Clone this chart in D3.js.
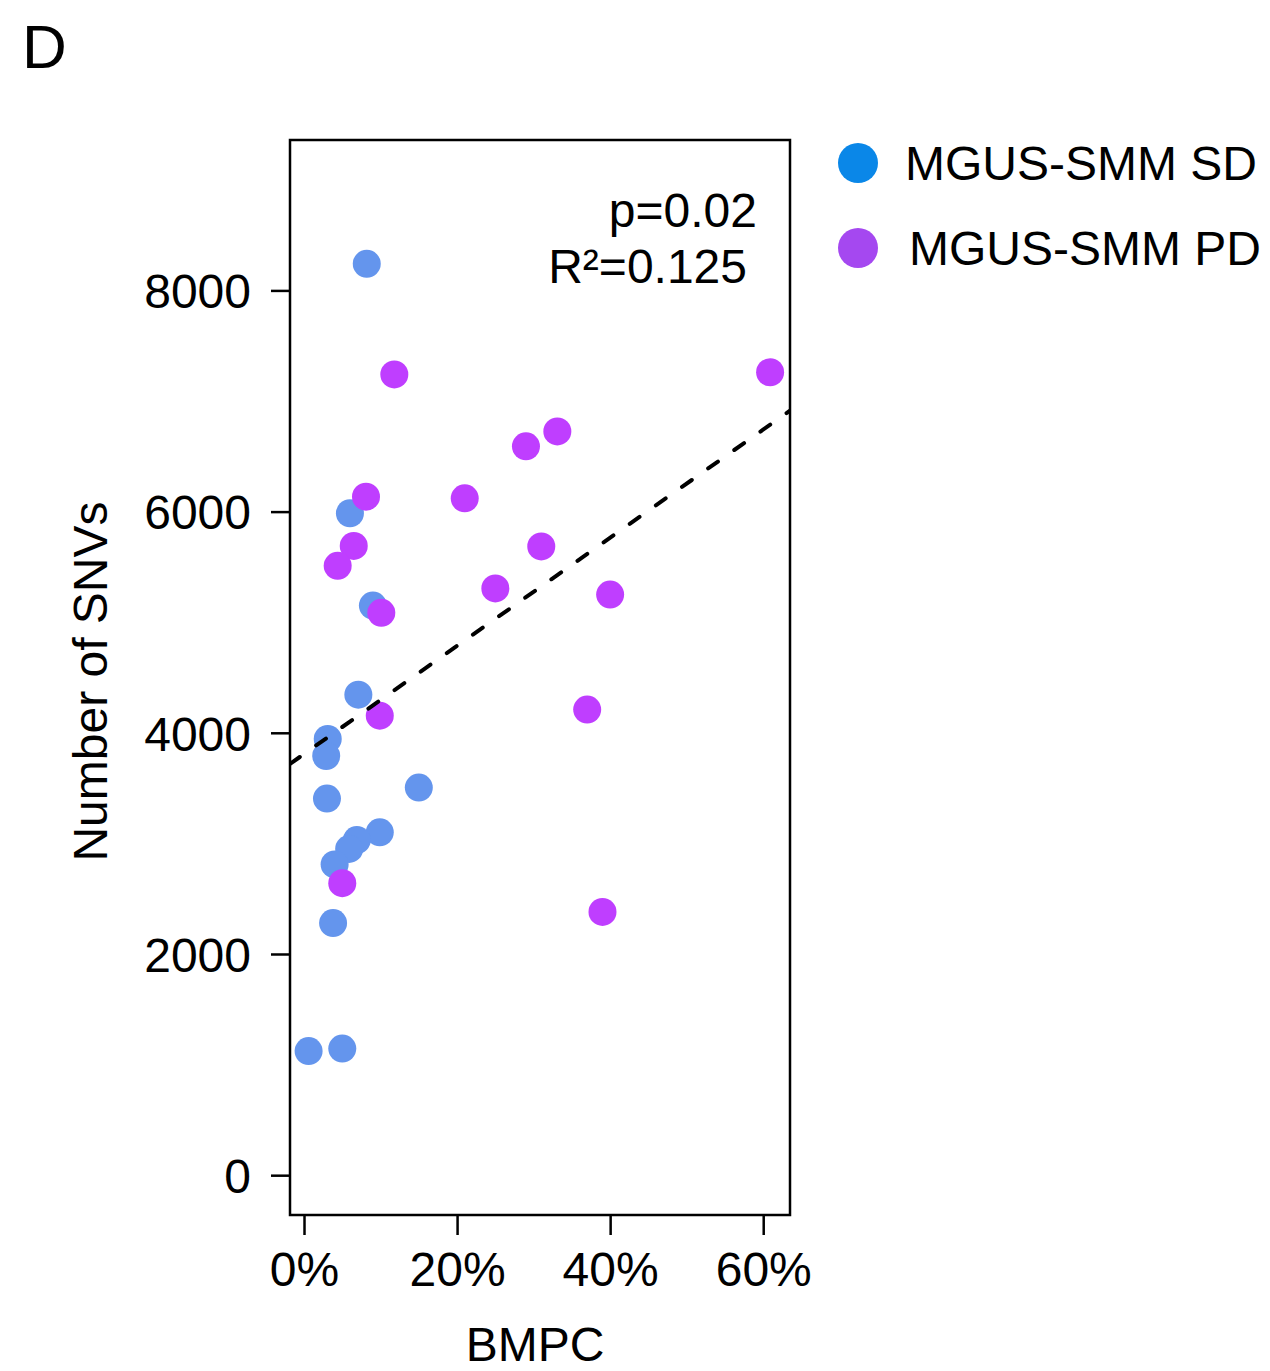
<!DOCTYPE html>
<html><head><meta charset="utf-8">
<script src="https://cdn.jsdelivr.net/npm/d3@7"></script>
<style>body{margin:0;background:#fff}svg{display:block}text{font-family:"Liberation Sans",Arial,Helvetica,sans-serif;fill:#000}</style>
</head><body>
<script>
// Data (BMPC %, number of SNVs)
const sdBMPC = [8.2, 6.0, 9.0, 7.1, 3.1, 2.9, 3.0, 15.0, 9.9, 6.9, 5.9, 4.0, 3.8, 0.6, 5.0];
const sdSNVs = [8240, 5985, 5150, 4345, 3945, 3790, 3405, 3505, 3100, 3030, 2950, 2810, 2280, 1122, 1145];
const pdBMPC = [11.8, 60.9, 29.0, 33.1, 8.1, 21.0, 6.5, 4.4, 31.0, 25.0, 40.0, 10.1, 9.9, 37.0, 5.0, 39.0];
const pdSNVs = [7240, 7260, 6590, 6725, 6135, 6120, 5690, 5510, 5685, 5305, 5250, 5085, 4155, 4210, 2640, 2380];
const groups = ["MGUS-SMM SD", "MGUS-SMM PD"];
const fitCoef = [3808, 48.9]; // intercept, slope per %
const xTicks = [0, 20, 40, 60];
const yTicks = [0, 2000, 4000, 6000, 8000];
const statLines = ["p=0.02", "R²=0.125"];

const W = 1270, H = 1371;
const svg = d3.select("body").append("svg").attr("width", W).attr("height", H);
const L = 290, R = 790, T = 140, B = 1215;
const x = d3.scaleLinear().domain([-1.83, 63.5]).range([L, R]);
const y = d3.scaleLinear().domain([-360, 9360]).range([B, T]);
const FS = 48;

svg.append("text").attr("x", 22).attr("y", 68).attr("font-size", 62).text("D");

const clip = svg.append("defs").append("clipPath").attr("id", "c").append("rect")
  .attr("x", L).attr("y", T).attr("width", R - L).attr("height", B - T);

const sd = sdBMPC.map((v, i) => ({x: v, y: sdSNVs[i]}));
const pd = pdBMPC.map((v, i) => ({x: v, y: pdSNVs[i]}));
svg.append("g").selectAll("circle").data(sd).join("circle")
  .attr("cx", d => x(d.x)).attr("cy", d => y(d.y)).attr("r", 14).attr("fill", "#6495ED");
svg.append("g").selectAll("circle").data(pd).join("circle")
  .attr("cx", d => x(d.x)).attr("cy", d => y(d.y)).attr("r", 14).attr("fill", "#BF3EFF");

// regression line
const xd = x.domain();
svg.append("line").attr("clip-path", "url(#c)")
  .attr("x1", x(xd[0])).attr("y1", y(fitCoef[0] + fitCoef[1] * xd[0]))
  .attr("x2", x(xd[1])).attr("y2", y(fitCoef[0] + fitCoef[1] * xd[1]))
  .attr("stroke", "#000").attr("stroke-width", 4).attr("stroke-dasharray", "12,20").attr("stroke-linecap", "round");

// box
svg.append("rect").attr("x", L).attr("y", T).attr("width", R - L).attr("height", B - T)
  .attr("fill", "none").attr("stroke", "#000").attr("stroke-width", 2.5);

// axes
const ya = d3.axisLeft(y).tickValues(yTicks).tickSize(19).tickPadding(20).tickFormat(d3.format("d"));
const gy = svg.append("g").attr("transform", `translate(${L},0)`).call(ya);
gy.select(".domain").remove();
gy.selectAll("line").attr("stroke-width", 2.5);
gy.selectAll("text").attr("font-size", FS).attr("dy", "0.36em");

const xa = d3.axisBottom(x).tickValues(xTicks).tickSize(20).tickPadding(17).tickFormat(d => d + "%");
const gx = svg.append("g").attr("transform", `translate(0,${B})`).call(xa);
gx.select(".domain").remove();
gx.selectAll("line").attr("stroke-width", 2.5);
gx.selectAll("text").attr("font-size", FS);
svg.selectAll(".tick text").attr("font-family", '"Liberation Sans",Arial,sans-serif').attr("fill", "#000");

// axis titles
svg.append("text").attr("x", 535).attr("y", 1361).attr("text-anchor", "middle").attr("font-size", FS).text("BMPC");
svg.append("text").attr("transform", `translate(107,${(T + B) / 2 + 4}) rotate(-90)`).attr("text-anchor", "middle").attr("font-size", FS).text("Number of SNVs");

// stats
svg.append("text").attr("x", 757).attr("y", 227).attr("text-anchor", "end").attr("font-size", FS).text(statLines[0]);
svg.append("text").attr("x", 747).attr("y", 283).attr("text-anchor", "end").attr("font-size", FS).text(statLines[1]);

// legend
const legCol = ["#0A87E8", "#A548F0"];
const legY = [163, 248];
const legX = [905, 909];
groups.forEach((g, i) => {
  svg.append("circle").attr("cx", 858).attr("cy", legY[i]).attr("r", 20).attr("fill", legCol[i]);
  svg.append("text").attr("x", legX[i]).attr("y", legY[i] + 17).attr("font-size", FS).text(g);
});
</script>
</body></html>
